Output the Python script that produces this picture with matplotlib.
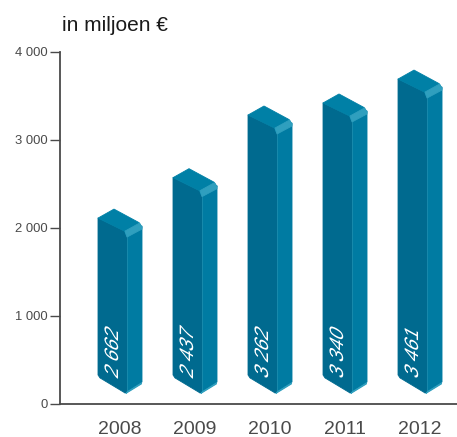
import numpy as np
import matplotlib
matplotlib.use("Agg")
import matplotlib.pyplot as plt
from matplotlib.patches import Polygon
from matplotlib.patheffects import AbstractPathEffect
from matplotlib.transforms import Affine2D

plt.rcParams['font.family'] = ['Liberation Sans', 'DejaVu Sans']

years = ['2008', '2009', '2010', '2011', '2012']
labels = ['2 662', '2 437', '3 262', '3 340', '3 461']
# height of the front left corner as drawn
tops = [2110, 2570, 3283, 3420, 3692]
base = 325
yticks = [0, 1000, 2000, 3000, 4000]
yticklabels = ['0', '1 000', '2 000', '3 000', '4 000']

W, H = 457, 437
fig = plt.figure(figsize=(W / 100, H / 100), dpi=100)
ax = fig.add_axes([60 / W, 1 - 403.5 / H, 397 / W, 351.5 / H])
ax.set_xlim(-0.8, 4.493)
ax.set_ylim(0, 4000)

FRONT = '#006a8f'
SIDE = '#007ba2'
TOP = '#0080a6'
LIGHT = '#2f9fbe'

PX = 75.0           # pixels per category
PY = 351.5 / 4000   # pixels per euro


class Shear(AbstractPathEffect):
    # slants the glyphs so they lie on the front face of the box
    def __init__(self, x0, y0, k):
        super().__init__()
        self.shear = Affine2D().translate(-x0, -y0).skew(0, np.arctan(k)).translate(x0, y0)

    def draw_path(self, renderer, gc, tpath, affine, rgbFace=None):
        renderer.draw_path(gc, tpath, affine + self.shear, rgbFace)


def box(i, top, pts_top, pts_base):
    # offsets in pixels from the category centre and the top / base of the box
    out = [(i + x / PX, top - y / PY) for x, y in pts_top]
    out += [(i + x / PX, base - y / PY) for x, y in pts_base]
    return out


for i, top in enumerate(tops):
    side = box(i, top, [(6, 16), (22, 8)], [(22, 7), (20, 8.5), (5, 18), (6, 16)])
    front = box(i, top, [(-22, 0), (4.5, 13), (6, 15), (7, 19)],
                [(7, 17), (5, 18), (-20, 3), (-22, 0)])
    cap = box(i, top, [(-22, 0), (-6, -9), (19, 4.5), (22, 9), (6, 17), (4.5, 13)], [])
    bevel = box(i, top, [(5, 13), (19.5, 5), (22, 9), (22, 11), (7, 19)], [])
    foot = box(i, 0, [], [(7, 17), (21.5, 8), (21.5, 9), (6, 18.5)])
    for pts, col in [(side, SIDE), (front, FRONT), (cap, TOP), (bevel, LIGHT), (foot, LIGHT)]:
        ax.add_patch(Polygon(pts, closed=True, facecolor=col, edgecolor=col,
                             linewidth=0.6, joinstyle='round', zorder=2))
    ax.plot([i + 7 / PX] * 2, [top - 19 / PY, base - 17 / PY], color=LIGHT, lw=0.6,
            alpha=0.6, zorder=3)

    # the number runs up the face, baseline just left of the centre
    ax_x, ax_y = i - 2 / PX, base - 55
    x0, y0 = ax.transData.transform((ax_x, ax_y))
    ax.text(ax_x, ax_y, labels[i], color='white', fontsize=14, rotation=90,
            rotation_mode='anchor', ha='left', va='baseline', zorder=4,
            path_effects=[Shear(x0, y0, -0.55)])

for s in ['top', 'right']:
    ax.spines[s].set_visible(False)
for s in ['left', 'bottom']:
    ax.spines[s].set_color('#4a4a4a')
    ax.spines[s].set_linewidth(1.3)

ax.set_xticks(range(len(years)))
ax.set_xticklabels(years, fontsize=14, color='#4a4a4a')
ax.tick_params(axis='x', length=0, pad=12.5)
ax.set_yticks(yticks)
ax.set_yticklabels(yticklabels, fontsize=9.4, color='#4a4a4a')
ax.tick_params(axis='y', length=7, width=1, color='#4a4a4a', pad=2)

fig.text(62 / W, 1 - 31 / H, 'in miljoen €', fontsize=15, color='#1a1a1a')

fig.savefig('out.png', dpi=100)
